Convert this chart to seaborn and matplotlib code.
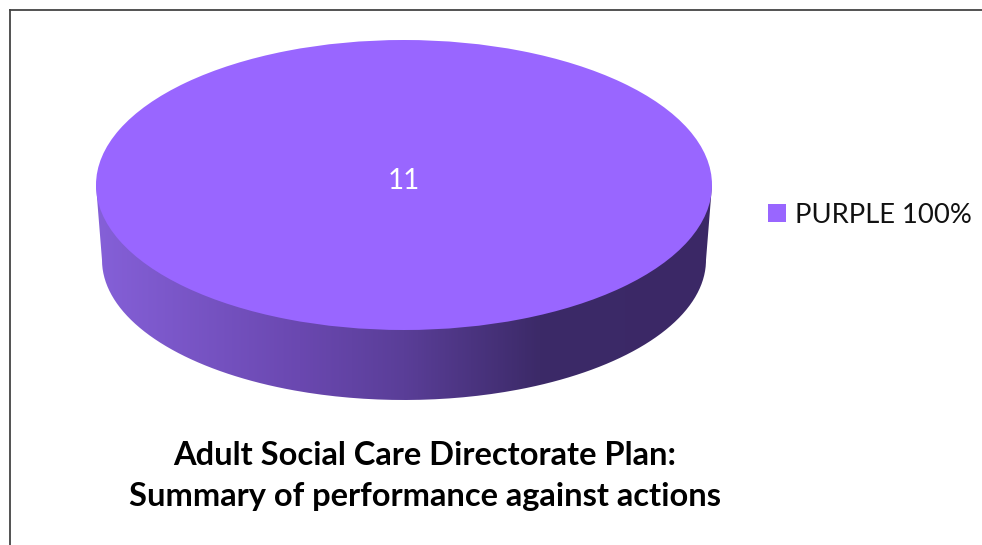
import matplotlib
matplotlib.use('Agg')
import matplotlib.pyplot as plt
import numpy as np
import seaborn as sns
from matplotlib.colors import LinearSegmentedColormap
from matplotlib.patches import PathPatch
from matplotlib.path import Path

categories = ['PURPLE 100%']
values = [11]
title_lines = ['Adult Social Care Directorate Plan:', 'Summary of performance against actions']

top_colour = '#9966FF'
side_stops = [(0, '#8560D8'), (0.33, '#6A48B0'), (0.5, '#5A3E98'), (0.72, '#3C2A68'), (1, '#3B2866')]

W, H = 982, 545

sns.set_theme(style='white')
plt.rcParams['font.family'] = ['Lato', 'DejaVu Sans']
palette = sns.color_palette([top_colour])

fig = plt.figure(figsize=(W / 100, H / 100), dpi=100, facecolor='white')

# border only shows on the left and top
frame = fig.add_axes([9.5 / W, 0, 1 - 9.5 / W, 1 - 9.5 / H])
frame.set_xticks([])
frame.set_yticks([])
sns.despine(ax=frame, top=False, right=True, bottom=True)
for side in ['left', 'top']:
    frame.spines[side].set_color('#444444')
    frame.spines[side].set_linewidth(1.3)

# pie axes: data units are the radius of the top ellipse, extra room below for the wall
cx, cy, rx, ry = 404, 185, 308, 145
bottom_px = 410
ax = fig.add_axes([(cx - rx) / W, 1 - bottom_px / H, 2 * rx / W, (bottom_px - cy + ry) / H])
ax.patch.set_alpha(0)

# side wall of the disc, a gradient clipped to the lower outline
drop = 75 / ry
low_rx, low_ry = 302 / rx, 140 / ry
t = np.linspace(np.pi, 2 * np.pi, 200)
wall_x = np.concatenate([[-1], low_rx * np.cos(t), [1]])
wall_y = np.concatenate([[0], low_ry * np.sin(t) - drop, [0]])
wall = PathPatch(Path(np.column_stack([wall_x, wall_y])), fc='none', ec='none', transform=ax.transData)
ax.add_patch(wall)
side_cmap = LinearSegmentedColormap.from_list('side', side_stops)
grad = ax.imshow(np.linspace(0, 1, 256)[None, :], cmap=side_cmap, aspect='auto',
                 extent=(-1, 1, -1 - drop, 0), zorder=1)
grad.set_clip_path(wall)

wedges, _, autotexts = ax.pie(values, colors=palette, startangle=-90, radius=1,
                              autopct=lambda p: f'{values[0]}', pctdistance=0.03,
                              textprops={'color': 'white', 'fontsize': 20},
                              wedgeprops={'linewidth': 0, 'zorder': 2})
for txt in autotexts:
    txt.set_zorder(3)
ax.set_aspect('auto')
ax.set_xlim(-1, 1)
ax.set_ylim(-(bottom_px - cy) / ry, 1)
wedges[0].set_clip_on(False)
ax.axis('off')

fig.legend(wedges, categories, loc='center left', bbox_to_anchor=(746 / W, 1 - 215 / H),
           frameon=False, fontsize=19.7, handlelength=0.66, handleheight=0.66,
           handletextpad=0.33, borderpad=0.3, labelcolor='#111111')

fig.text(425 / W, 1 - 476 / H, '\n'.join(title_lines), ha='center', va='center',
         fontsize=23.5, fontweight='bold', color='black', linespacing=1.52)

fig.savefig('out.png', dpi=100)
